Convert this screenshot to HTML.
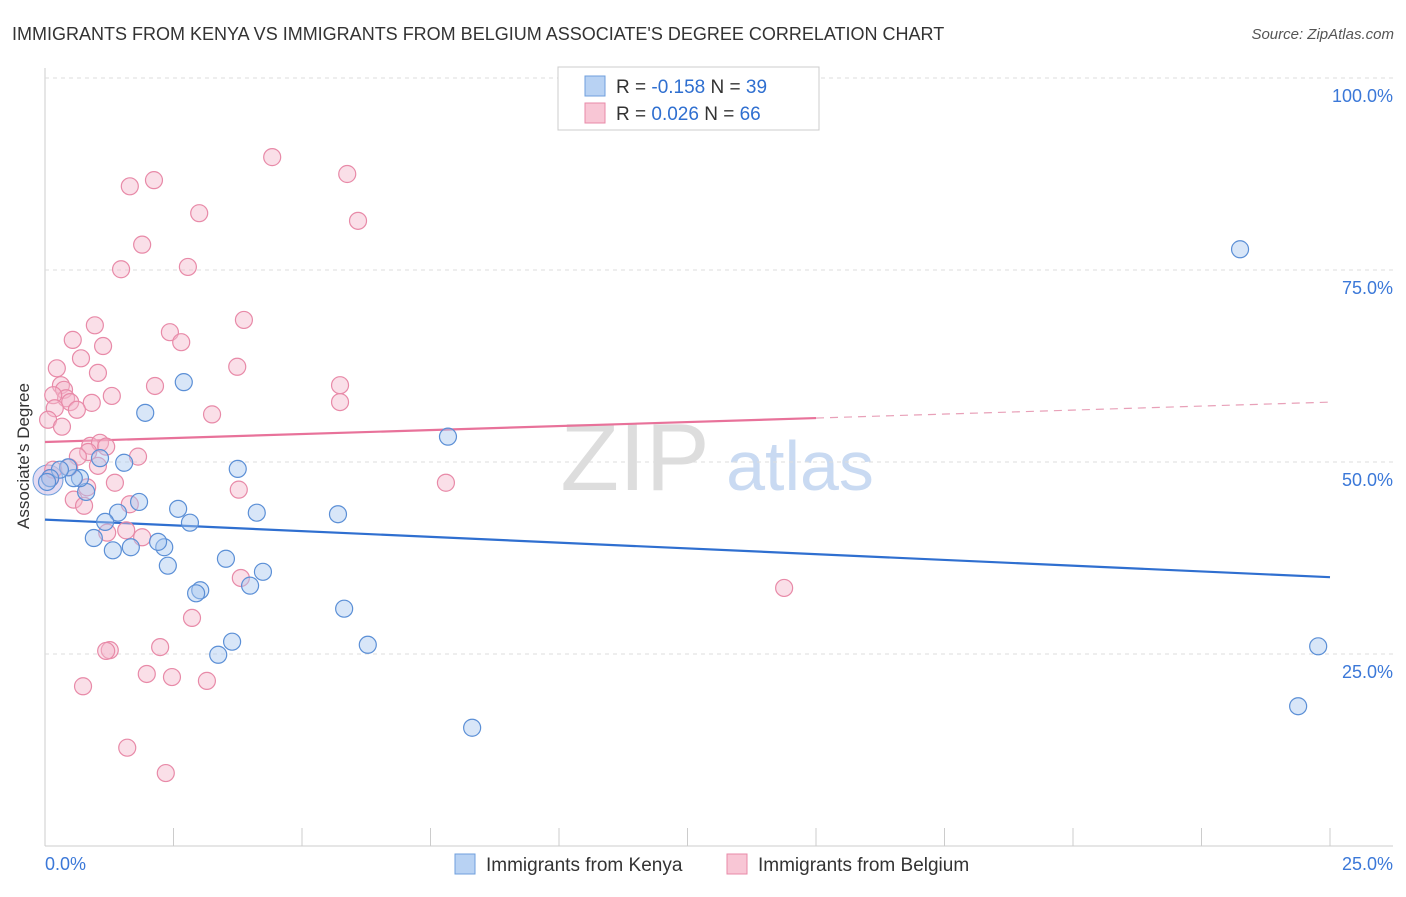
<!DOCTYPE html>
<html><head><meta charset="utf-8"><style>
body{margin:0;background:#fff;font-family:"Liberation Sans",sans-serif;}
svg text{font-family:"Liberation Sans",sans-serif;}
</style></head><body>
<svg id="chart" width="1406" height="892" xmlns="http://www.w3.org/2000/svg">
<text x="12" y="40" font-size="18" fill="#333">IMMIGRANTS FROM KENYA VS IMMIGRANTS FROM BELGIUM ASSOCIATE'S DEGREE CORRELATION CHART</text>
<text x="1394" y="39" font-size="15" fill="#555" text-anchor="end" font-style="italic">Source: ZipAtlas.com</text>
<text x="29" y="456" font-size="17" fill="#333" text-anchor="middle" transform="rotate(-90 29 456)">Associate's Degree</text>
<g><text x="635" y="490" font-size="96" fill="#ddd" text-anchor="middle" font-family="Liberation Serif">ZIP</text><text x="800" y="490" font-size="70" fill="#c9daf2" text-anchor="middle">atlas</text></g>
<g id="grid"></g><g id="lines"></g><g id="pts"></g>
<g>
<rect x="558" y="67" width="261" height="63" fill="#fff" stroke="#ccc"/>
<rect x="585" y="76" width="20" height="20" fill="#b8d2f3" stroke="#6f9fdc"/>
<rect x="585" y="103" width="20" height="20" fill="#f8c6d5" stroke="#e88aa8"/>
<text x="616" y="93" font-size="19" fill="#333">R = <tspan fill="#2f6fd0">-0.158</tspan>   N = <tspan fill="#2f6fd0">39</tspan></text>
<text x="616" y="120" font-size="19" fill="#333">R =  <tspan fill="#2f6fd0">0.026</tspan>   N = <tspan fill="#2f6fd0">66</tspan></text>
</g>
<g>
<rect x="455" y="854" width="20" height="20" fill="#b8d2f3" stroke="#6f9fdc"/>
<text x="486" y="871" font-size="19" fill="#333">Immigrants from Kenya</text>
<rect x="727" y="854" width="20" height="20" fill="#f8c6d5" stroke="#e88aa8"/>
<text x="758" y="871" font-size="19" fill="#333">Immigrants from Belgium</text>
</g>
</svg>
<script>
const xTicks=[0,2.5,5,7.5,10,12.5,15,17.5,20,22.5,25];
const yTicks=[25,50,75,100];
const yTickLabels=["25.0%","50.0%","75.0%","100.0%"];
const kenyaX=[23.25,24.38,24.77,8.31,7.84,6.28,5.82,5.70,4.24,4.12,3.99,3.75,3.64,3.37,3.52,3.02,2.94,2.82,2.70,2.59,2.39,2.32,2.20,1.95,1.83,1.67,1.54,1.42,1.32,1.17,1.07,0.95,0.80,0.68,0.56,0.45,0.29,0.10,0.04];
const kenyaY=[77.7,18.2,26.0,15.4,53.3,26.2,30.9,43.2,35.7,43.4,33.9,49.1,26.6,24.9,37.4,33.3,32.9,42.1,60.4,43.9,36.5,38.9,39.6,56.4,44.8,38.9,49.9,43.4,38.5,42.2,50.5,40.1,46.1,47.9,47.9,49.3,49.0,47.9,47.4];
const belgX=[4.42,5.88,6.09,2.12,1.65,3.00,1.89,2.78,1.48,3.87,0.97,2.43,2.65,0.54,1.13,0.70,3.74,0.23,1.03,5.74,2.14,0.31,0.37,0.41,0.49,0.16,1.30,0.91,5.74,3.25,0.19,0.62,0.06,0.33,0.88,1.07,1.19,0.84,0.64,1.81,0.47,7.80,3.77,1.36,0.82,1.65,0.56,0.76,1.58,1.21,1.89,3.81,14.38,2.86,2.24,1.26,1.19,1.98,2.47,3.15,0.74,1.60,2.35,0.10,0.16,1.03];
const belgY=[89.7,87.5,81.4,86.7,85.9,82.4,78.3,75.4,75.1,68.5,67.8,66.9,65.6,65.9,65.1,63.5,62.4,62.2,61.6,60.0,59.9,60.0,59.4,58.3,57.8,58.7,58.6,57.7,57.8,56.2,57.0,56.8,55.5,54.6,52.1,52.5,52.0,51.3,50.7,50.7,49.3,47.3,46.4,47.3,46.7,44.5,45.1,44.3,41.1,40.8,40.2,34.9,33.6,29.7,25.9,25.5,25.4,22.4,22.0,21.5,20.8,12.8,9.5,47.9,49.0,49.5];
const kenyaTrend=[42.5,35.0];
const belgTrend=[52.6,57.8];
const belgSolidEnd=15;
const NS="http://www.w3.org/2000/svg";
const X=v=>45+v/25*1285, Y=v=>846-v/100*768;
function mk(t,a,p){const e=document.createElementNS(NS,t);for(const k in a)e.setAttribute(k,a[k]);p.appendChild(e);return e;}
const grid=document.getElementById('grid'),lines=document.getElementById('lines'),pts=document.getElementById('pts');
const ax=mk('line',{x1:45,y1:846,x2:1393,y2:846,stroke:'#ccc'},grid);


const ay=mk('line',{x1:45,y1:68,x2:45,y2:846,stroke:'#ccc'},grid);


mk('line',{x1:45,y1:78,x2:1393,y2:78,stroke:'#ddd','stroke-dasharray':'4,4'},grid);
yTicks.forEach((v,i)=>{
 const g=mk('line',{x1:45,y1:Y(v),x2:1393,y2:Y(v),stroke:'#ddd','stroke-dasharray':'4,4'},grid);
 
 
 const t=mk('text',{x:1393,y:Y(v)+24,'font-size':18,fill:'#3b78d8','text-anchor':'end'},grid);
 t.textContent=yTickLabels[i];
 
 
});
xTicks.forEach(v=>{
 const l=mk('line',{x1:X(v),y1:828,x2:X(v),y2:846,stroke:'#ccc'},grid);
 
 
});
[[0,'0.0%','start',45],[25,'25.0%','end',1393]].forEach(a=>{
 const t=mk('text',{x:a[3],y:870,'font-size':18,fill:'#3b78d8','text-anchor':a[2]},grid);
 t.textContent=a[1];
 
 
});
function pt(x,y,r,f,s){
 const c=mk('circle',{cx:X(x),cy:Y(y),r:r,fill:f,'fill-opacity':0.45,stroke:s,'stroke-width':1.2},pts);
 return c;
}
mk('circle',{cx:48,cy:480,r:15,fill:'#c9b8e6','fill-opacity':0.5,stroke:'#6f9fdc'},pts);
belgX.forEach((x,i)=>{
 const c=pt(x,belgY[i],8.5,'#f5b8cb','#e88aa8');
 
 
});
kenyaX.forEach((x,i)=>{
 const c=pt(x,kenyaY[i],8.5,'#a9c8f0','#5b8fd6');
 
 
});
const by=x=>belgTrend[0]+(belgTrend[1]-belgTrend[0])*x/25;
const l1=mk('line',{x1:X(0),y1:Y(kenyaTrend[0]),x2:X(25),y2:Y(kenyaTrend[1]),stroke:'#2f6fd0','stroke-width':2.2},lines);


const l2=mk('line',{x1:X(0),y1:Y(by(0)),x2:X(belgSolidEnd),y2:Y(by(belgSolidEnd)),stroke:'#e8729a','stroke-width':2.2},lines);


const l3=mk('line',{x1:X(belgSolidEnd),y1:Y(by(belgSolidEnd)),x2:X(25),y2:Y(by(25)),stroke:'#e8a0b8','stroke-width':1.2,'stroke-dasharray':'8,6'},lines);


</script>
</body></html>
